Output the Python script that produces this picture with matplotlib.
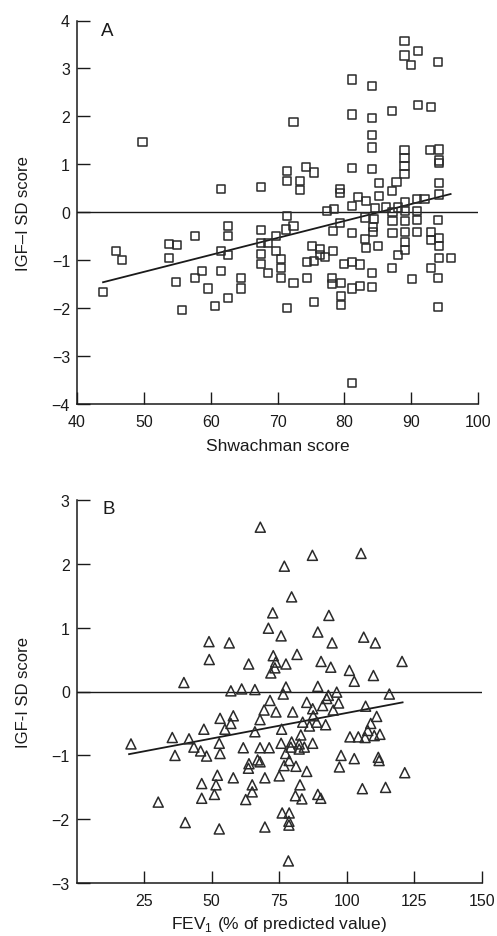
import matplotlib
matplotlib.use("Agg")
import matplotlib.pyplot as plt
import numpy as np

plt.rcParams['font.family'] = ['Liberation Sans', 'DejaVu Sans']
plt.rcParams['mathtext.fontset'] = 'custom'
plt.rcParams['mathtext.rm'] = 'Liberation Sans'

# Panel A: Shwachman score vs IGF-I SD score
shw_x = [43.9, 45.9, 46.8, 49.8, 53.8, 54.9, 53.8, 57.7, 54.8, 55.7, 57.7, 58.7, 59.6, 60.6,
         61.6, 61.6, 62.6, 62.6, 62.6, 62.6, 61.5, 64.6, 64.6, 67.5, 67.5, 67.5, 67.5, 67.5,
         68.6, 68.6, 69.8, 69.8, 70.5, 70.5, 70.5, 71.4, 71.4, 71.4, 71.4, 71.3, 72.4, 72.4,
         72.4, 73.3, 73.3, 74.3, 75.4, 74.4, 75.4, 75.2, 76.4, 76.4, 77.1, 78.3, 74.4, 75.4,
         77.4, 78.5, 78.3, 78.2, 78.2, 79.3, 79.3, 79.3, 79.5, 79.5, 79.5, 79.9, 81.1, 82.3,
         81.1, 82.3, 81.2, 81.2, 81.2, 81.1, 81.2, 81.1, 82.1, 83.3, 83.1, 83.1, 83.2, 84.1,
         84.1, 84.1, 84.1, 84.1, 84.6, 84.4, 84.3, 84.3, 84.2, 84.2, 85.2, 85.2, 85.1, 86.3,
         87.1, 87.1, 87.2, 87.2, 87.2, 87.1, 87.8, 88.0, 88.0, 89.0, 89.0, 89.0, 89.0, 89.0,
         89.0, 89.1, 89.1, 89.1, 89.1, 89.1, 89.1, 90.0, 90.1, 90.9, 92.0, 90.9, 90.9, 90.9,
         91.0, 91.0, 93.0, 92.8, 93.0, 93.0, 93.0, 94.0, 94.1, 94.1, 94.1, 94.1, 94.1, 94.0,
         94.1, 94.1, 94.1, 96.0, 94.0, 94.0]
shw_y = [-1.66, -0.80, -0.99, 1.47, -0.66, -0.69, -0.96, -0.50, -1.45, -2.03, -1.37, -1.23, -1.59, -1.96,
         -1.23, -0.81, -0.89, -1.79, -0.29, -0.50, 0.49, -1.38, -1.59, 0.52, -0.37, -0.64, -0.87, -1.08,
         -0.64, -1.27, -0.50, -0.80, -0.97, -1.16, -1.38, -2.00, 0.86, 0.66, -0.08, -0.36, -0.28, 1.88,
         -1.48, 0.66, 0.47, 0.94, 0.83, -1.04, -1.01, -0.70, -0.77, -0.89, -0.94, -0.81, -1.38, -1.88,
         0.03, 0.06, -0.40, -1.38, -1.50, 0.48, 0.40, -0.22, -1.47, -1.75, -1.93, -1.08, -1.03, -1.09,
         -1.59, -1.53, 2.77, 2.04, 0.92, 0.13, -0.44, -3.57, 0.32, 0.23, -0.11, -0.56, -0.75, 2.64,
         1.96, 1.62, 1.35, 0.90, 0.09, -0.15, -0.31, -0.42, -1.27, -1.55, 0.61, 0.34, -0.70, 0.10,
         2.12, 0.45, 0.00, -0.19, -0.44, -1.16, 0.63, 0.10, -0.89, 3.57, 3.27, 1.29, 1.13, 0.96,
         0.79, 0.21, 0.03, -0.18, -0.42, -0.63, -0.78, 3.07, -1.39, 0.27, 0.27, 0.03, -0.16, -0.42,
         3.36, 2.23, 2.19, 1.29, -0.42, -0.58, -1.16, 3.14, 1.31, 1.08, 1.03, 0.61, 0.37, -0.17,
         -0.53, -0.70, -0.95, -0.95, -1.37, -1.97]
shw_fit_x = [43.9, 95.9]
shw_fit_y = [-1.46, 0.38]

# Panel B: FEV1 (% predicted) vs IGF-I SD score
fev_x = [68.0, 72.6, 71.0, 49.0, 56.5, 49.1, 63.7, 72.8, 87.3, 105.3, 76.9, 79.6, 93.4, 75.7,
         89.3, 94.6, 106.3, 110.6, 81.6, 90.5, 120.5, 94.1, 101.0, 73.7, 77.5, 71.9, 73.4, 102.8,
         109.9, 39.7, 57.1, 61.1, 66.0, 77.5, 76.5, 89.3, 93.2, 96.3, 115.8, 71.6, 85.2, 92.6,
         97.0, 87.4, 91.1, 95.0, 107.0, 69.4, 73.8, 80.0, 87.6, 111.1, 53.1, 58.0, 67.9, 57.1,
         83.7, 88.9, 92.2, 108.9, 47.1, 54.9, 75.9, 86.2, 66.0, 83.0, 41.6, 52.8, 101.2, 104.3,
         106.8, 110.2, 112.3, 75.7, 79.6, 82.4, 87.4, 20.1, 35.4, 43.4, 45.9, 48.1, 36.4, 53.1,
         61.7, 67.9, 71.3, 63.8, 67.0, 67.9, 52.1, 46.3, 51.6, 58.0, 65.0, 69.7, 75.0, 46.3,
         51.0, 62.6, 65.0, 30.2, 40.2, 52.8, 69.7, 107.8, 79.3, 82.4, 84.3, 77.4, 78.7, 76.8,
         81.2, 85.2, 97.9, 102.8, 111.7, 112.0, 97.3, 121.5, 82.7, 81.0, 83.4, 89.3, 90.4, 105.8,
         114.4, 76.1, 78.7, 78.6, 78.6, 78.4, 63.6]
fev_y = [2.57, 1.23, 0.99, 0.78, 0.76, 0.50, 0.43, 0.56, 2.13, 2.16, 1.96, 1.48, 1.19, 0.87,
         0.93, 0.76, 0.85, 0.76, 0.58, 0.47, 0.47, 0.38, 0.33, 0.46, 0.43, 0.29, 0.37, 0.16,
         0.25, 0.14, 0.01, 0.04, 0.03, 0.07, -0.04, 0.08, -0.06, -0.01, -0.04, -0.14, -0.17, -0.11,
         -0.18, -0.27, -0.22, -0.29, -0.23, -0.29, -0.32, -0.32, -0.38, -0.39, -0.42, -0.38, -0.44, -0.50,
         -0.48, -0.48, -0.52, -0.50, -0.59, -0.59, -0.59, -0.54, -0.63, -0.68, -0.74, -0.81, -0.71, -0.71,
         -0.72, -0.69, -0.67, -0.81, -0.79, -0.82, -0.81, -0.82, -0.72, -0.87, -0.93, -1.01, -1.00, -0.97,
         -0.88, -0.88, -0.88, -1.13, -1.07, -1.10, -1.31, -1.44, -1.46, -1.35, -1.46, -1.35, -1.32, -1.67,
         -1.61, -1.69, -1.57, -1.73, -2.05, -2.15, -2.12, -0.61, -0.87, -0.90, -0.87, -0.97, -1.08, -1.16,
         -1.17, -1.25, -1.00, -1.05, -1.03, -1.08, -1.18, -1.27, -1.46, -1.63, -1.68, -1.61, -1.67, -1.52,
         -1.50, -1.90, -1.90, -2.03, -2.09, -2.65, -1.20]
fev_fit_x = [19.4, 120.7]
fev_fit_y = [-0.98, -0.17]

INK = '#1a1a1a'
W, H = 497, 937
fig = plt.figure(figsize=(W / 100, H / 100), dpi=100)

axA = fig.add_axes([77 / W, 1 - 405 / H, (478 - 77) / W, (405 - 21.5) / H])
axB = fig.add_axes([76.7 / W, 1 - 884.3 / H, (481.7 - 76.7) / W, (884.3 - 500.7) / H])


def style(ax):
    for s in ['top', 'right']:
        ax.spines[s].set_visible(False)
    for s in ['left', 'bottom']:
        ax.spines[s].set_linewidth(1.1)
        ax.spines[s].set_color(INK)
    ax.tick_params(direction='in', length=9, width=1.0, color=INK, labelsize=11.5,
                   labelcolor=INK)
    ax.tick_params(axis='x', pad=7)
    ax.tick_params(axis='y', pad=5)


# Panel A
axA.axhline(0, color=INK, lw=1.0)
axA.plot(shw_fit_x, shw_fit_y, color=INK, lw=1.3)
axA.scatter(shw_x, shw_y, marker='s', s=34, facecolors='none', edgecolors='#2a2a2a',
            linewidths=1.1, zorder=3, clip_on=False)
axA.set_xlim(40, 100)
axA.set_ylim(-4, 4)
axA.set_xticks([40, 50, 60, 70, 80, 90, 100])
axA.set_yticks([-4, -3, -2, -1, 0, 1, 2, 3, 4])
style(axA)
axA.set_xlabel('Shwachman score', fontsize=12.5, color=INK, labelpad=7)
axA.set_ylabel('IGF–I SD score', fontsize=12, color=INK, labelpad=15)
axA.text(43.6, 3.79, 'A', fontsize=13.5, color=INK, va='center', ha='left')

# Panel B
axB.axhline(0, color=INK, lw=1.0)
axB.plot(fev_fit_x, fev_fit_y, color=INK, lw=1.3)
axB.scatter(fev_x, fev_y, marker='^', s=52, facecolors='none', edgecolors='#2a2a2a',
            linewidths=1.1, zorder=3, clip_on=False)
axB.set_xlim(0, 150)
axB.set_ylim(-3, 3)
axB.set_xticks([25, 50, 75, 100, 125, 150])
axB.set_yticks([-3, -2, -1, 0, 1, 2, 3])
style(axB)
axB.set_xlabel('FEV$_1$ (% of predicted value)', fontsize=12.5, color=INK, labelpad=4)
axB.set_ylabel('IGF-I SD score', fontsize=12, color=INK, labelpad=15)
axB.text(9.6, 2.86, 'B', fontsize=13.5, color=INK, va='center', ha='left')

fig.savefig('out.png', dpi=100)
